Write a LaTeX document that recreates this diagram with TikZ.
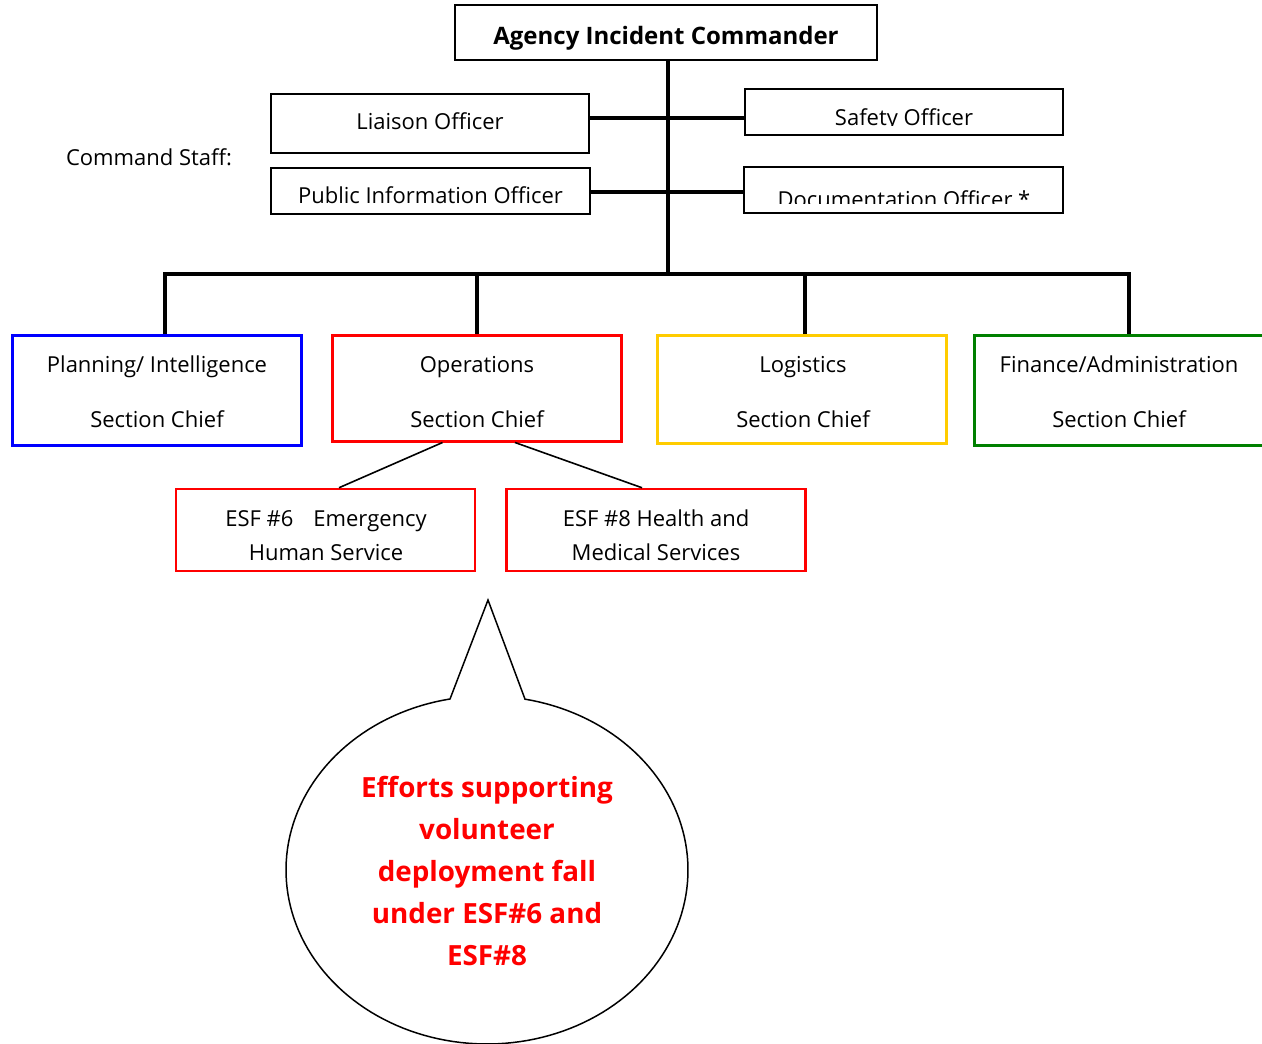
\documentclass[tikz,border=0pt]{standalone}
\usepackage{fontspec}
\setmainfont{Open Sans}
\usetikzlibrary{calc}
\definecolor{cblue}{HTML}{0000FF}
\definecolor{cred}{HTML}{FF0000}
\definecolor{cgold}{HTML}{FFCC00}
\definecolor{cgreen}{HTML}{008000}
\begin{document}
\begin{tikzpicture}[x=1pt,y=-1pt,
  staffbox/.style={draw=black, line width=1.8pt, inner sep=0pt},
  secbox/.style={draw=#1, line width=3pt, inner sep=0pt, minimum width=289pt},
  esfbox/.style={draw=cred, line width=2.5pt, inner sep=0pt, minimum width=299pt, minimum height=82pt},
  plaintext/.style={inner sep=0pt, font=\fontsize{22}{26}\selectfont},
  sectext/.style={inner sep=0pt, align=center, font=\fontsize{22}{55}\selectfont},
  esftext/.style={inner sep=0pt, align=center, font=\fontsize{22}{34}\selectfont},
  trunkline/.style={line width=3.2pt},
  staffline/.style={line width=3.4pt},
  thinline/.style={line width=1.6pt},
  bubble/.style={draw=black, line width=1.5pt}
]
\useasboundingbox (0,0) rectangle (1262,1044);

% Commander
\node[draw=black, line width=2pt, minimum width=422pt, minimum height=55pt, inner sep=0pt] (cmd) at (666,32.5) {};
\node[inner sep=0pt, font=\fontsize{24}{28}\selectfont\bfseries, anchor=base] (cmdtext) at (666,44) {Agency Incident Commander};

% Command staff
\node[plaintext, anchor=base] (cstaff) at (149,165) {Command Staff:};
\node[staffbox, minimum width=318pt, minimum height=59pt] (liaison) at (430,123.5) {};
\node[plaintext, anchor=base] (liaisontext) at (430,129) {Liaison Officer};
\node[staffbox, minimum width=319pt, minimum height=46pt] (pio) at (430.5,191) {};
\node[plaintext, anchor=base] (piotext) at (430.5,203) {Public Information Officer};
\node[staffbox, minimum width=318pt, minimum height=46pt] (safety) at (904,112) {};
\node[staffbox, minimum width=319pt, minimum height=46pt] (doc) at (903.5,190) {};
\begin{scope}
  \clip ($(safety.north west)+(2,2)$) rectangle ($(safety.south east)+(-2,-10)$);
  \node[plaintext, anchor=base] (safetytext) at (904,125) {Safety Officer};
\end{scope}
\begin{scope}
  \clip ($(doc.north west)+(2,2)$) rectangle ($(doc.south east)+(-2,-10)$);
  \node[plaintext, anchor=base] (doctext) at (904,207) {Documentation Officer *};
\end{scope}

% Trunk
\coordinate (tr) at (668,274);
\draw[trunkline] (cmd.south -| tr) -- (tr);
\coordinate (s1) at (668,118);
\coordinate (s2) at (668,192);
\draw[staffline] (liaison.east |- s1) -- (safety.west |- s1);
\draw[staffline] (pio.east |- s2) -- (doc.west |- s2);

% Sections
\node[secbox=cblue, minimum height=110pt] (plan) at (156.5,390) {};
\node[secbox=cred, minimum height=106pt] (ops) at (476.5,388) {};
\node[secbox=cgold, minimum height=108pt] (log) at (802,389) {};
\node[secbox=cgreen, minimum width=290pt, minimum height=110pt] (fin) at (1119,390) {};
\node[sectext] (plantext) at (157,392) {Planning/ Intelligence\\Section Chief};
\node[sectext] (opstext) at (477,392) {Operations\\Section Chief};
\node[sectext] (logtext) at (803,392) {Logistics\\Section Chief};
\node[sectext] (fintext) at (1119,392) {Finance/Administration\\Section Chief};

% Bus
\coordinate (b1) at (165,274);
\coordinate (b2) at (477,274);
\coordinate (b3) at (805,274);
\coordinate (b4) at (1129,274);
\draw[trunkline, line cap=rect] (b1) -- (b4);
\draw[trunkline] (b1) -- (b1 |- plan.north);
\draw[trunkline] (b2) -- (b2 |- ops.north);
\draw[trunkline] (b3) -- (b3 |- log.north);
\draw[trunkline] (b4) -- (b4 |- fin.north);

% ESF boxes
\node[esfbox] (esf6) at (325.5,530) {};
\node[esfbox] (esf8) at (656,530) {};
\node[esftext] (esf6text) at (326,535.5) {ESF \#6\hspace{20pt}Emergency\\Human Service};
\node[esftext] (esf8text) at (656,535.5) {ESF \#8 Health and\\Medical Services};
\draw[thinline] ($(ops.south)+(-34,0)$) -- ($(esf6.north)+(13.5,0)$);
\draw[thinline] ($(ops.south)+(38.5,0)$) -- ($(esf8.north)+(-14,0)$);

% Speech bubble
\coordinate (tip) at (488,600);
\draw[bubble, line join=miter] (tip) -- plot[domain=280.9:619.4, samples=160] ({487+201*cos(\x)},{870+174*sin(\x)}) -- cycle;
\node[align=center, text=cred, inner sep=0pt, font=\fontsize{27.8}{42}\selectfont\bfseries] (note) at (487,871)
  {Efforts supporting\\volunteer\\deployment fall\\under ESF\#6 and\\ESF\#8};
\end{tikzpicture}
\end{document}
